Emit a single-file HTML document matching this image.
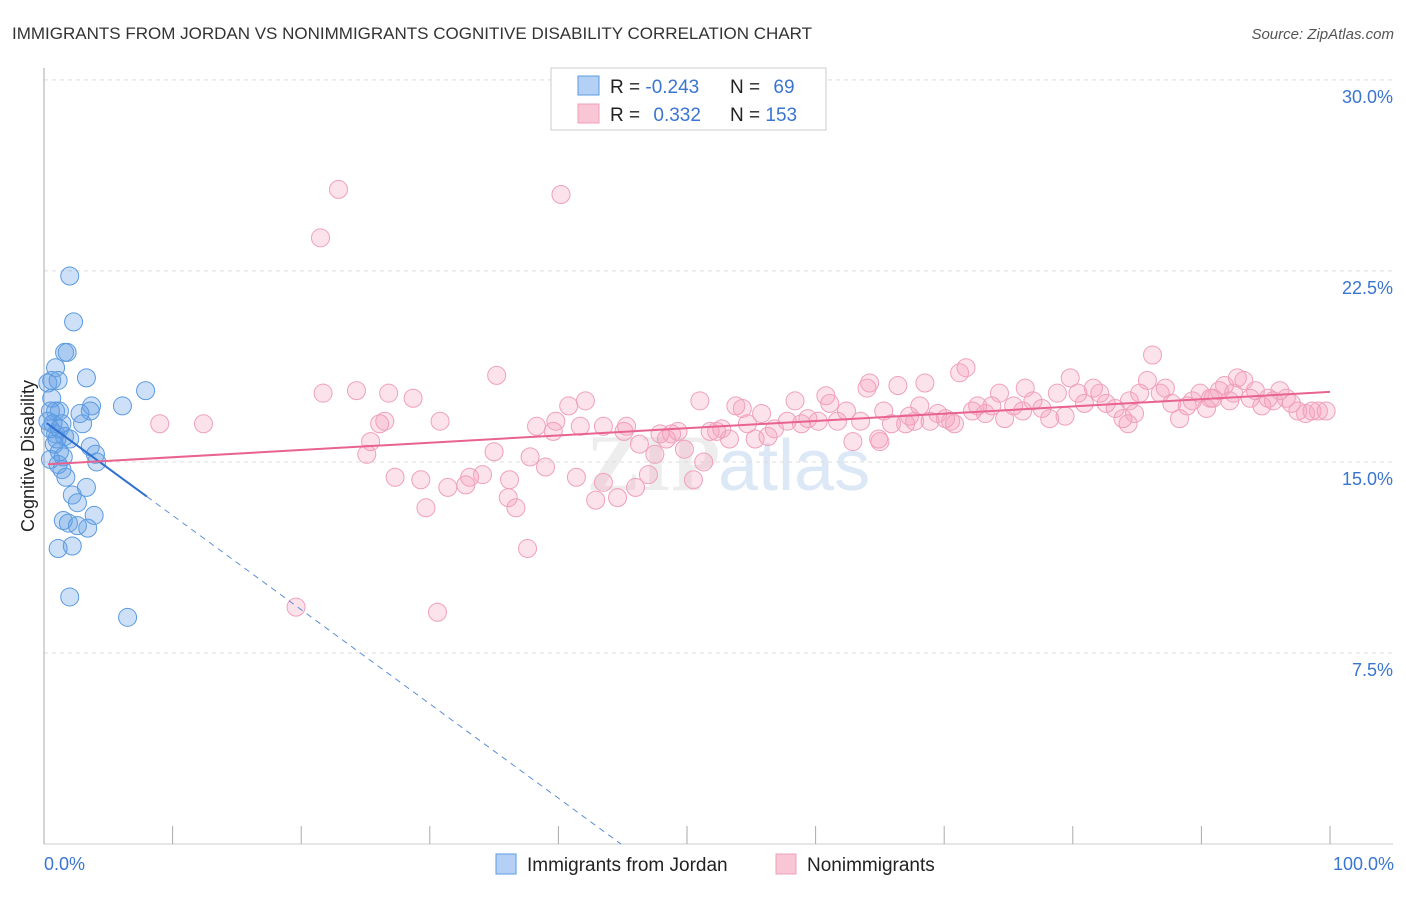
<!DOCTYPE html>
<html><head><meta charset="utf-8"><style>
body{margin:0;background:#fff;font-family:"Liberation Sans",sans-serif}
</style></head><body>
<svg id="c" width="1406" height="892" xmlns="http://www.w3.org/2000/svg">
<text x="12" y="39" font-size="17" fill="#333">IMMIGRANTS FROM JORDAN VS NONIMMIGRANTS COGNITIVE DISABILITY CORRELATION CHART</text>
<text x="1394" y="39" font-size="15" fill="#555" font-style="italic" text-anchor="end">Source: ZipAtlas.com</text>
<text x="720" y="490" font-size="80" font-weight="bold" fill="#ccc" opacity="0.35" text-anchor="end" font-family="Liberation Serif,serif">ZIP</text>
<text x="718" y="490" font-size="72" fill="#a9c6ea" opacity="0.4">atlas</text>
<g id="grid"></g><g id="pts"></g><g id="lines"></g>
<text transform="translate(34,456) rotate(-90)" font-size="18" fill="#222" text-anchor="middle">Cognitive Disability</text>
<g>
<rect x="551" y="68" width="275" height="62" fill="#fff" stroke="#ccc"/>
<rect x="578" y="76" width="21" height="19" fill="#b4d0f4" stroke="#5b9be0"/>
<rect x="578" y="104" width="21" height="19" fill="#f8c6d5" stroke="#f0a0bb"/>
<text x="610" y="93" font-size="19" fill="#222">R = <tspan fill="#3a75d0">-0.243</tspan></text>
<text x="730" y="93" font-size="19" fill="#222">N = <tspan fill="#3a75d0" dx="8">69</tspan></text>
<text x="610" y="121" font-size="19" fill="#222">R = <tspan fill="#3a75d0" dx="8">0.332</tspan></text>
<text x="730" y="121" font-size="19" fill="#222">N = <tspan fill="#3a75d0">153</tspan></text>
</g>
<g>
<rect x="496" y="854" width="20" height="20" fill="#b4d0f4" stroke="#5b9be0"/>
<text x="527" y="871" font-size="19" fill="#222">Immigrants from Jordan</text>
<rect x="776" y="854" width="20" height="20" fill="#f8c6d5" stroke="#f0a0bb"/>
<text x="807" y="871" font-size="19" fill="#222">Nonimmigrants</text>
</g>
<text x="44" y="870" font-size="18" fill="#3a75d0">0.0%</text>
<text x="1394" y="870" font-size="18" fill="#3a75d0" text-anchor="end">100.0%</text>
</svg>
<script>
const yTicks=[30,22.5,15,7.5];
const yTickLabels=["30.0%","22.5%","15.0%","7.5%"];
const xTicks=[0,10,20,30,40,50,60,70,80,90,100];
const blueX=[2.0,2.3,1.6,1.8,0.9,0.3,0.6,1.1,3.3,7.9,6.1,3.7,3.6,2.8,0.6,0.9,1.2,1.4,3.0,0.5,0.9,1.6,2.0,0.8,3.6,4.0,1.2,1.5,4.1,1.1,1.4,1.7,2.2,3.3,2.6,3.9,1.5,1.9,2.6,3.4,1.1,2.2,2.0,6.5,0.5,0.3,0.7,1.0,0.5,1.2];
const blueY=[22.3,20.5,19.3,19.3,18.7,18.1,18.2,18.2,18.3,17.8,17.2,17.2,17.0,16.9,17.5,17.0,17.0,16.5,16.5,16.3,16.1,16.0,15.9,15.7,15.6,15.3,15.4,15.2,15.0,14.9,14.7,14.4,13.7,14.0,13.4,12.9,12.7,12.6,12.5,12.4,11.6,11.7,9.7,8.9,17.0,16.6,16.5,15.9,15.1,16.3];
const pinkX=[9.0,12.4,19.6,21.5,22.9,21.7,24.3,25.1,25.4,26.1,26.5,26.8,27.3,28.7,29.7,29.3,30.8,30.6,31.4,32.8,33.1,34.1,35.0,35.2,36.1,36.2,36.7,37.6,37.8,38.3,39.0,39.6,39.8,40.2,40.8,41.4,41.7,42.1,42.9,43.5,44.6,43.5,45.1,45.3,46.0,46.3,47.0,47.5,47.9,48.4,48.8,49.3,49.8,50.5,51.0,51.3,51.8,52.3,52.7,53.3,53.8,54.3,54.7,55.3,55.8,56.3,56.8,57.8,58.4,58.9,59.4,60.2,60.8,61.1,61.7,62.4,62.9,63.5,64.0,64.2,64.9,65.3,65.9,66.4,67.0,67.3,67.7,68.1,68.5,68.9,69.5,70.1,70.8,71.2,71.7,72.2,72.6,73.2,73.7,74.3,74.7,75.4,76.1,76.3,76.9,77.6,78.2,78.8,79.4,79.8,80.4,80.9,81.6,82.1,82.6,83.3,83.9,84.3,84.8,85.2,85.8,86.2,86.8,87.2,87.7,88.3,88.9,89.3,89.9,90.4,90.9,91.4,91.8,92.5,92.8,93.3,93.8,94.2,94.7,95.2,95.6,96.1,96.6,97.0,97.5,98.1,98.6,99.1,99.7,92.2,90.7,70.5,65.0,84.4];
const pinkY=[16.5,16.5,9.3,23.8,25.7,17.7,17.8,15.3,15.8,16.5,16.6,17.7,14.4,17.5,13.2,14.3,16.6,9.1,14.0,14.1,14.4,14.5,15.4,18.4,13.6,14.3,13.2,11.6,15.2,16.4,14.8,16.2,16.6,25.5,17.2,14.4,16.4,17.4,13.5,14.2,13.6,16.4,16.2,16.4,14.0,15.7,14.5,15.3,16.1,15.9,16.1,16.2,15.5,14.3,17.4,15.0,16.2,16.2,16.3,15.9,17.2,17.1,16.5,15.9,16.9,16.0,16.3,16.6,17.4,16.5,16.7,16.6,17.6,17.3,16.6,17.0,15.8,16.6,17.9,18.1,15.9,17.0,16.5,18.0,16.5,16.8,16.6,17.2,18.1,16.6,16.9,16.7,16.5,18.5,18.7,17.0,17.2,16.9,17.2,17.7,16.7,17.2,17.0,17.9,17.4,17.1,16.7,17.7,16.8,18.3,17.7,17.3,17.9,17.7,17.3,17.1,16.7,16.5,16.9,17.7,18.2,19.2,17.7,17.9,17.3,16.7,17.2,17.4,17.7,17.1,17.5,17.8,18.0,17.7,18.3,18.2,17.5,17.8,17.2,17.5,17.4,17.8,17.5,17.3,17.0,16.9,17.0,17.0,17.0,17.4,17.5,16.6,15.8,17.4];
const blueTrend=[16.6,-0.37];
const pinkTrend=[14.9,0.0285];
const NS='http://www.w3.org/2000/svg';
const X=p=>44+p*12.86, Y=v=>844-v*25.47;
function mk(t,a,parent){const e=document.createElementNS(NS,t);for(const k in a)e.setAttribute(k,a[k]);document.getElementById(parent).appendChild(e);return e;}
yTicks.forEach((t,i)=>{
 const g=mk('line',{x1:44,x2:1393,y1:Y(t),y2:Y(t),stroke:'#ddd','stroke-dasharray':'4,4'},'grid');
 
 
 const l=mk('text',{x:1393,y:Y(t)+23,'font-size':18,fill:'#3a75d0','text-anchor':'end'},'grid');
 l.textContent=yTickLabels[i];
 
 
});
const ax=mk('line',{x1:44,x2:44,y1:68,y2:844,stroke:'#aaa'},'grid');


const bx=mk('line',{x1:44,x2:1393,y1:844,y2:844,stroke:'#ccc'},'grid');


xTicks.forEach(t=>{
 const e=mk('line',{x1:X(t),x2:X(t),y1:826,y2:844,stroke:'#aaa'},'grid');
 
 
});
pinkX.forEach((p,i)=>{
 const c=mk('circle',{cx:X(p),cy:Y(pinkY[i]),r:9,fill:'rgba(244,160,190,0.3)',stroke:'#f0a0bb','stroke-width':1},'pts');
 
 
});
blueX.forEach((p,i)=>{
 const c=mk('circle',{cx:X(p),cy:Y(blueY[i]),r:9,fill:'rgba(100,160,230,0.32)',stroke:'#5b9be0','stroke-width':1},'pts');
 
 
});
const bz=-blueTrend[0]/blueTrend[1];
const l1=mk('line',{x1:X(0.2),y1:Y(blueTrend[0]+blueTrend[1]*0.2),x2:X(8),y2:Y(blueTrend[0]+blueTrend[1]*8),stroke:'#2f6fd0','stroke-width':2},'lines');


const l2=mk('line',{x1:X(8),y1:Y(blueTrend[0]+blueTrend[1]*8),x2:X(bz),y2:Y(0),stroke:'#5b8fd8','stroke-width':1,'stroke-dasharray':'6,5'},'lines');


const l3=mk('line',{x1:X(0.3),y1:Y(pinkTrend[0]+pinkTrend[1]*0.3),x2:X(100),y2:Y(pinkTrend[0]+pinkTrend[1]*100),stroke:'#e8638f','stroke-width':2},'lines');


</script>
</body></html>
